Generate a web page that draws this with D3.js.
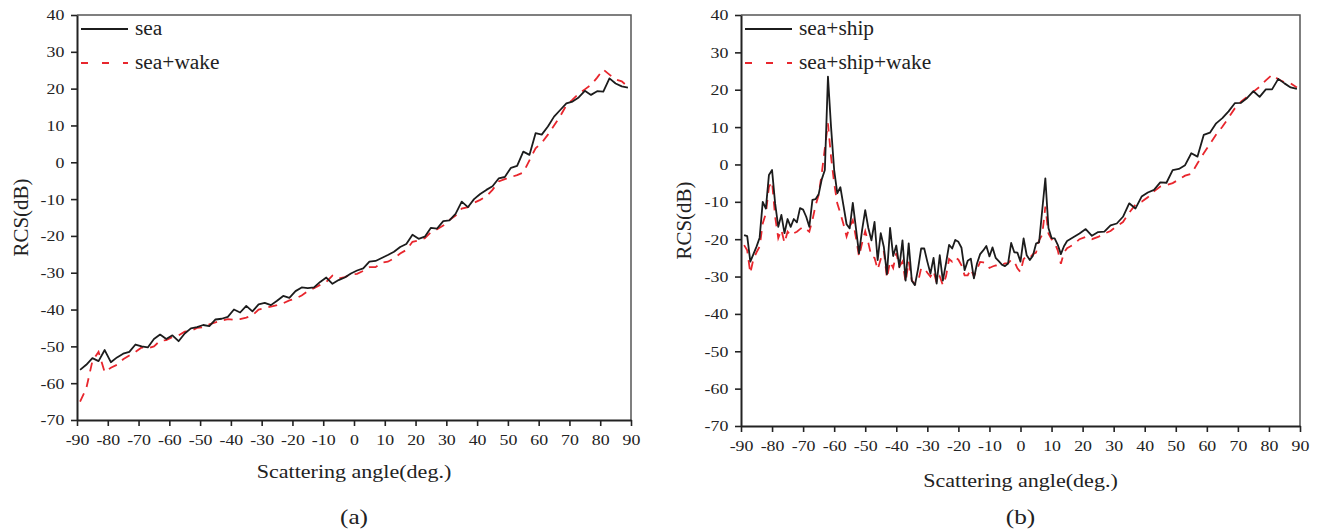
<!DOCTYPE html>
<html>
<head>
<meta charset="utf-8">
<script src="https://cdn.jsdelivr.net/npm/d3@7"></script>
<style>
  body { margin: 0; background: #fff; }
  text { font-family: "Liberation Serif", "DejaVu Serif", serif; fill: #222; }
</style>
</head>
<body>
<div id="chart"></div>
<script>
// ---- data ----
const xTicks = [-90, -80, -70, -60, -50, -40, -30, -20, -10, 0, 10, 20, 30, 40, 50, 60, 70, 80, 90];
const yTicks = [-70, -60, -50, -40, -30, -20, -10, 0, 10, 20, 30, 40];

// panel (a): 2 degree grid, -89 .. 89
const anglesA = d3.range(-89, 90, 2);
const seaA = [-56.4, -55, -53.2, -54, -51, -54.3, -53, -52, -51.5, -49.5,
  -50, -50.3, -48, -46.8, -48, -47, -48.6, -46.5, -45.1, -44.8,
  -44.2, -44.5, -42.7, -42.5, -42.0, -40.0, -40.8, -39.0, -40.5, -38.6,
  -38.2, -38.8, -37.6, -36.3, -36.8, -35.0, -34.0, -34.2, -34.0, -32.5,
  -31.3, -33.0, -32.0, -31.3, -30.2, -29.4, -28.8, -27.0, -26.8, -26.0,
  -25.2, -24.3, -23.0, -22.2, -19.7, -20.8, -20.2, -17.8, -18.0, -16.0,
  -15.8, -14.0, -10.7, -12.2, -10.0, -8.6, -7.5, -6.5, -4.4, -4.0,
  -1.5, -1.0, 2.9, 2.0, 7.9, 7.5, 9.7, 12.4, 14.2, 16.0,
  16.5, 17.6, 19.4, 18.3, 19.3, 19.2, 22.8, 21.4, 20.6, 20.3];
const seaWakeA = [-65, -61.5, -54, -51.5, -57, -55.8, -55, -53.5, -52.5, -51.5,
  -50.3, -50.5, -50, -48.5, -48.3, -47.5, -47, -46, -45.8, -45,
  -44.8, -44, -43.5, -43, -42.6, -42.8, -42.6, -42.2, -41.6, -40,
  -39.6, -39.2, -38.8, -38.3, -37.5, -37, -36.2, -35, -34.2, -33.3,
  -32.5, -30.8, -31.6, -31.2, -30.5, -30.3, -29.5, -28.5, -28.5, -27.3,
  -27.0, -26.1, -24.8, -23.8, -21.6, -21.2, -20.6, -19.0, -18.2, -17.2,
  -15.7, -14.5, -12.6, -12.2, -11.0, -10.2, -9.3, -7.5, -5.2, -4.6,
  -4.0, -3.5, -2.8, 0.5, 3.8, 5.3, 7.5, 10, 12.5, 15.5,
  17.0, 18.6, 19.8, 21.0, 23, 25.2, 23.8, 22.5, 22.0, 20.5];

// panel (b): 1 degree grid -89 .. 15, then 2 degree grid 17 .. 89
const anglesB = d3.range(-89, 16, 1).concat(d3.range(17, 90, 2));
const seaShipB = [-18.9, -19.2, -26.0, -24.0, -22.0, -19.6, -10.0, -11.8, -2.8, -1.5,
  -10.5, -16.7, -13.5, -18.4, -14.6, -16.7, -14.6, -15.5, -11.7, -12.1,
  -14.0, -16.7, -9.5, -9.3, -8.0, -4.0, -1.5, 23.5, 10.0, -1.5,
  -7.7, -6.1, -11.0, -16.0, -17.1, -10.3, -17.0, -23.8, -17.5, -12.2,
  -17.0, -20.3, -15.4, -25.6, -18.4, -22.1, -29.4, -17.0, -24.5, -21.7,
  -27.5, -20.3, -31.1, -21.1, -31.1, -32.3, -28.0, -22.5, -22.5, -26.0,
  -29.2, -25.0, -31.9, -24.3, -31.1, -26.5, -21.5, -22.5, -20.2, -20.7,
  -22.3, -28.3, -25.8, -25.2, -30.5, -26.5, -24.0, -23.0, -21.8, -24.6,
  -22.2, -25.0, -25.9, -26.8, -27.2, -26.5, -21.0, -23.5, -23.6, -26.0,
  -19.8, -24.3, -25.6, -24.4, -21.2, -20.8, -12.2, -3.7, -17.0, -19.7,
  -19.8, -21.5, -24.0, -21.9, -20.5,
  -19.5, -18.5, -17.3, -19.1, -18.1, -18.0, -16.3, -15.8, -14.0, -10.4,
  -11.8, -8.6, -7.5, -6.8, -4.8, -4.9, -1.5, -1.2, -0.2, 3.0,
  2.1, 7.9, 8.5, 11.0, 12.4, 14.2, 16.4, 16.5, 17.8, 19.6,
  18.1, 20.1, 20.1, 22.9, 21.7, 20.6, 20.2];
const seaShipWakeB = [-21.6, -23.0, -29.1, -25.3, -23.5, -22.0, -15.8, -13.1, -6.0, -4.6,
  -14.0, -19.7, -17.5, -21.0, -18.0, -19.0, -18.4, -18.0, -17.3, -16.7,
  -17.3, -18.0, -14.9, -11.0, -8.2, -2.4, 4.3, 11.0, 2.0, -5.0,
  -10.4, -13.1, -16.0, -19.3, -16.7, -14.9, -19.5, -24.6, -21.0, -17.9,
  -21.0, -24.6, -25.0, -28.1, -25.3, -23.2, -30.4, -26.0, -27.7, -23.7,
  -27.3, -26.0, -31.5, -26.0, -31.0, -32.0, -31.5, -27.8, -27.8, -29.0,
  -30.0, -28.5, -31.7, -30.0, -32.3, -30.0, -25.3, -26.0, -24.9, -25.5,
  -27.0, -29.7, -29.7, -28.0, -30.0, -28.0, -26.1, -26.2, -26.4, -27.7,
  -27.3, -27.0, -27.2, -26.8, -26.5, -26.5, -25.5, -26.0, -27.8, -28.8,
  -25.3, -24.6, -25.0, -24.0, -23.6, -20.3, -18.8, -11.3, -18.5, -20.0,
  -21.0, -23.0, -26.6, -23.6, -22.4,
  -21.5, -20.0, -19.4, -20.0, -19.4, -18.5, -17.8, -16.5, -15.4, -12.9,
  -10.8, -10.0, -8.8, -7.2, -5.9, -5.5, -5.0, -4.0, -3.0, -2.5,
  0.3, 3.0, 5.5, 8.0, 10.1, 12.5, 15.0, 16.8, 18.1, 19.5,
  20.8, 22.5, 24.0, 22.8, 22.0, 21.7, 20.6];

const panels = [
  { id: "a", box: { left: 77, right: 631, top: 15, bottom: 420 },
    angles: anglesA, solid: seaA, dashed: seaWakeA,
    names: ["sea", "sea+wake"], titleY: 478, tagY: 524, ylabX: 28 },
  { id: "b", box: { left: 741, right: 1300, top: 15, bottom: 426 },
    angles: anglesB, solid: seaShipB, dashed: seaShipWakeB,
    names: ["sea+ship", "sea+ship+wake"], titleY: 487, tagY: 524, ylabX: 691 }
];

const svg = d3.select("#chart").append("svg")
  .attr("width", 1322)
  .attr("height", 531);

const RED = "#e8262d", BLACK = "#1c1c1c";
const plain = function(d) { return String(d); }; // hyphen minus, as in the figure

panels.forEach(function(p) {
  const b = p.box;
  const x = d3.scaleLinear().domain([-90, 90]).range([b.left, b.right]);
  const y = d3.scaleLinear().domain([-70, 40]).range([b.bottom, b.top]);
  const g = svg.append("g");

  // frame: top and right
  g.append("path")
    .attr("d", "M" + b.left + "," + b.top + "H" + b.right + "V" + b.bottom)
    .attr("fill", "none").attr("stroke", "#555").attr("stroke-width", 1.5);

  const xAxis = d3.axisBottom(x).tickValues(xTicks).tickFormat(plain)
    .tickSize(6).tickSizeOuter(0).tickPadding(5);
  const yAxis = d3.axisLeft(y).tickValues(yTicks).tickFormat(plain)
    .tickSize(6).tickSizeOuter(0).tickPadding(5);

  const gx = g.append("g").attr("transform", "translate(0," + b.bottom + ")").call(xAxis);
  const gy = g.append("g").attr("transform", "translate(" + b.left + ",0)").call(yAxis);
  [gx, gy].forEach(function(ax) {
    ax.select(".domain").attr("stroke", "#222").attr("stroke-width", 2);
    ax.selectAll(".tick line").attr("stroke", "#222").attr("stroke-width", 1.6);
    ax.selectAll(".tick text")
      .attr("fill", "#222")
      .style("font-size", "15.5px")
      .attr("transform", "scale(1.15,1)");
  });
  gx.selectAll(".tick text").attr("dy", "0.9em");

  // curves
  const line = d3.line().x(function(d) { return x(d[0]); }).y(function(d) { return y(d[1]); });
  const solidPts = p.angles.map(function(a, i) { return [a, p.solid[i]]; });
  const dashPts = p.angles.map(function(a, i) { return [a, p.dashed[i]]; });

  g.append("path").datum(dashPts)
    .attr("d", line).attr("fill", "none")
    .attr("stroke", RED).attr("stroke-width", 1.8)
    .attr("stroke-dasharray", "9,7");
  g.append("path").datum(solidPts)
    .attr("d", line).attr("fill", "none")
    .attr("stroke", BLACK).attr("stroke-width", 1.8)
    .attr("stroke-linejoin", "round");

  // legend
  const lg = g.append("g");
  lg.append("line").attr("x1", b.left + 4).attr("x2", b.left + 51)
    .attr("y1", 29).attr("y2", 29).attr("stroke", BLACK).attr("stroke-width", 1.8);
  lg.append("line").attr("x1", b.left + 4).attr("x2", b.left + 51)
    .attr("y1", 63).attr("y2", 63).attr("stroke", RED).attr("stroke-width", 1.8)
    .attr("stroke-dasharray", "7,14");
  lg.append("text").attr("transform", "translate(" + (b.left + 58) + ",35) scale(1.07,1)")
    .style("font-size", "20px").text(p.names[0]);
  lg.append("text").attr("transform", "translate(" + (b.left + 58) + ",69) scale(1.07,1)")
    .style("font-size", "20px").text(p.names[1]);

  // axis titles
  const cx = (b.left + b.right) / 2;
  g.append("text")
    .attr("transform", "translate(" + cx + "," + p.titleY + ") scale(1.16,1)")
    .attr("text-anchor", "middle").style("font-size", "19px")
    .text("Scattering angle(deg.)");
  g.append("text")
    .attr("transform", "translate(" + p.ylabX + "," + ((b.top + b.bottom) / 2) + ") rotate(-90)")
    .attr("text-anchor", "middle").style("font-size", "21px")
    .text("RCS(dB)");
  g.append("text")
    .attr("transform", "translate(" + cx + "," + p.tagY + ") scale(1.15,1)")
    .attr("text-anchor", "middle").style("font-size", "22px")
    .text("(" + p.id + ")");
});
</script>
</body>
</html>
